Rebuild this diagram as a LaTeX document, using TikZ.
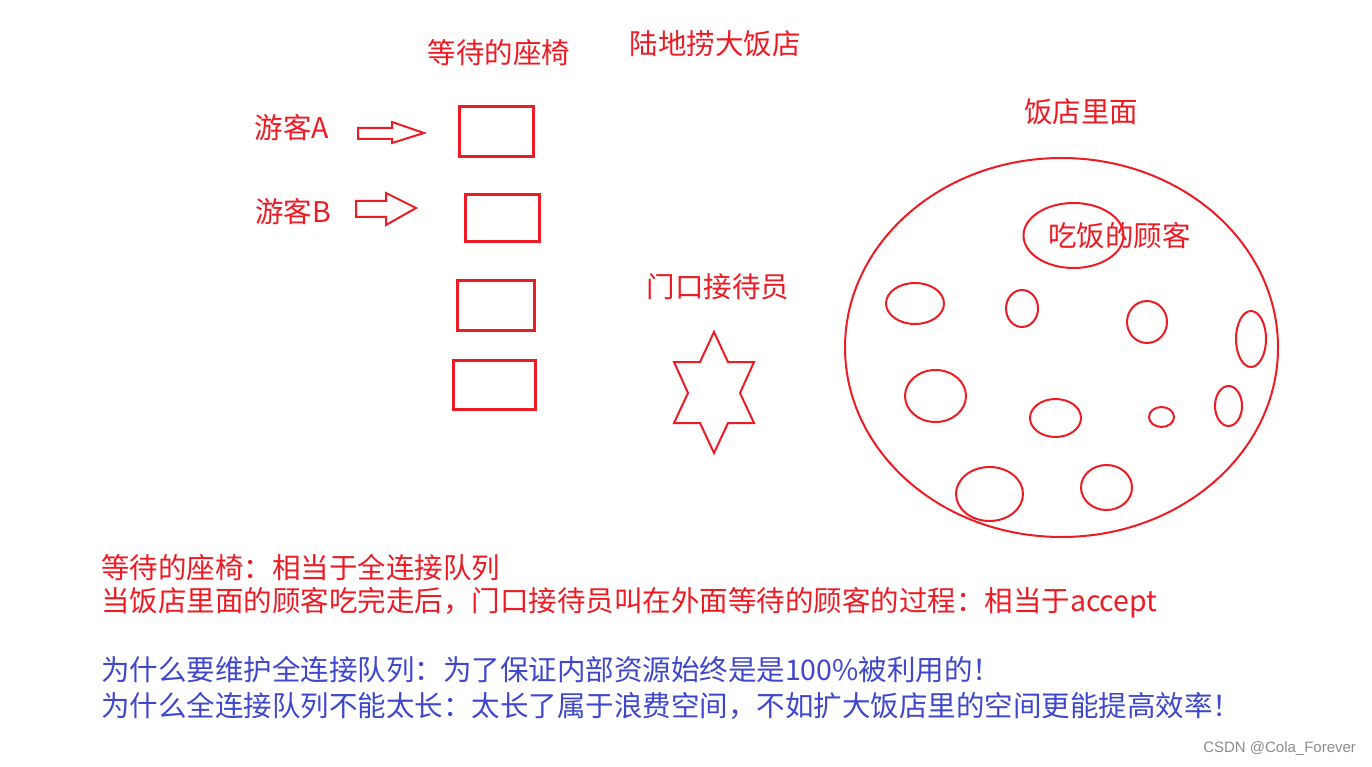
\documentclass[tikz,border=0pt]{standalone}
\usepackage{fontspec}
\usepackage{xcolor}
\usepackage{tikz}
\usetikzlibrary{positioning}
\setmainfont{Noto Sans CJK SC}
\newfontfamily\markfont{Liberation Sans}
\definecolor{PaintRed}{HTML}{ED1C24}
\definecolor{PaintBlue}{HTML}{3F48CC}

\begin{document}
\begin{tikzpicture}[x=1pt, y=-1pt,
                    label/.style={text=PaintRed, inner sep=0pt, font=\fontsize{28.5}{33}\selectfont},
                    note/.style={label, anchor=west},
                    seat/.style={draw=PaintRed, line width=3pt, inner sep=0pt},
                    every path/.style={draw=PaintRed, line width=2pt, line join=miter}]
\useasboundingbox[fill=white, draw=none] (0,0) rectangle (1372,767);
% titles
\node[label] (seattitle) at (499,53) {等待的座椅};
\node[label] (hotel) at (715,44) {陆地捞大饭店};
\node[label] (inside) at (1081,112) {饭店里面};
% tourists
\node[label] (touristA) at (292,128) {游客A};
\node[label] (touristB) at (293,212) {游客B};
\draw (358,128) -- (392,128) -- (392,122) -- (424,133) -- (392,143) -- (392,139) -- (358,139) -- cycle;
\draw (356,201) -- (386,201) -- (386,193) -- (416,208) -- (386,225) -- (386,217) -- (356,217) -- cycle;
% seats
\node[seat, minimum width=74pt, minimum height=50pt] (seat1) at (496,132) {};
\node[seat, minimum width=74pt, minimum height=47pt] (seat2) at (502,218.5) {};
\node[seat, minimum width=77pt, minimum height=50pt] (seat3) at (495.5,305) {};
\node[seat, minimum width=82pt, minimum height=49pt] (seat4) at (494,384.5) {};
% doorman
\node[label] (doorman) at (718,287) {门口接待员};
\draw (714,332) -- (728,362) -- (754,362) -- (740,393) -- (754,423) -- (728,423)
      -- (714,453) -- (700,423) -- (674,423) -- (688,393) -- (674,362) -- (700,362) -- cycle;
% restaurant
\draw (1061.5,347.5) ellipse [x radius=216.5, y radius=189.5];
\draw (1073.5,235.5) ellipse [x radius=50, y radius=32.5];
\node[label] (eating) at (1119.5,236) {吃饭的顾客};
\draw (915,303.5) ellipse [x radius=29, y radius=20.5];
\draw (1022,308.5) ellipse [x radius=16, y radius=18.5];
\draw (1147,322) ellipse [x radius=20, y radius=21];
\draw (1251,339) ellipse [x radius=15, y radius=28];
\draw (935.5,396) ellipse [x radius=30.5, y radius=26];
\draw (1055.5,418) ellipse [x radius=25.5, y radius=19];
\draw (1161.5,417) ellipse [x radius=12.5, y radius=10];
\draw (1228.5,406) ellipse [x radius=13.5, y radius=20];
\draw (989.5,494) ellipse [x radius=33.5, y radius=27];
\draw (1106.5,487.5) ellipse [x radius=25.5, y radius=22.5];
% notes
\node[note] (line1) at (100,568) {等待的座椅：相当于全连接队列};
\node[note] (line2) at (100,603) {当饭店里面的顾客吃完走后，门口接待员叫在外面等待的顾客的过程：相当于accept};
\node[note, text=PaintBlue] (line3) at (100,670) {为什么要维护全连接队列：为了保证内部资源始终是是100\%被利用的！};
\node[note, text=PaintBlue] (line4) at (100,706) {为什么全连接队列不能太长：太长了属于浪费空间，不如扩大饭店里的空间更能提高效率！};
\node[anchor=east, inner sep=0pt, text=black!45, font=\markfont\fontsize{15}{18}\selectfont] (mark) at (1357,749) {CSDN @Cola\_Forever};
\end{tikzpicture}
\end{document}
